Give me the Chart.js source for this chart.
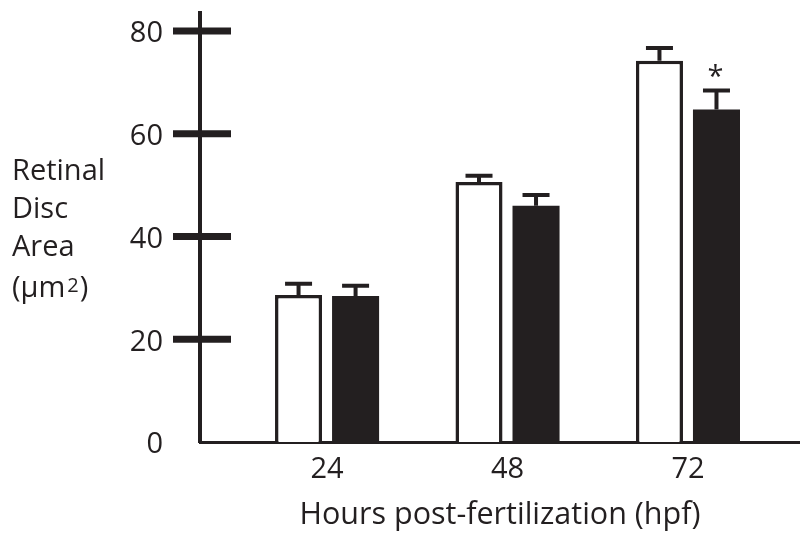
<!DOCTYPE html>
<html>
<head>
<meta charset="utf-8">
<script src="https://cdn.jsdelivr.net/npm/chart.js@4/dist/chart.umd.min.js"></script>
<style>
    html, body { margin: 0; padding: 0; background: #fff; }
    #wrap { width: 800px; height: 538px; }
</style>
</head>
<body>
<div id="wrap"><canvas id="discChart" width="800" height="538"></canvas></div>
<script>
// values
const hours = [24, 48, 72];
const controlArea = [28.6, 50.6, 74.2];
const controlErr = [2.2, 1.2, 2.5];
const treatedArea = [28.4, 46.0, 64.7];
const treatedErr = [2.0, 2.1, 3.7];
const treatedMarks = ['', '', '*'];
const yTicks = [0, 20, 40, 60, 80];

const INK = '#231f20';
const FONT = "'Open Sans', sans-serif";

// error bars (upper half only) + significance marks
const errorBars = {
    id: 'errorBars',
    afterDatasetsDraw(chart) {
        const ctx = chart.ctx;
        const y = chart.scales.y;
        const errs = [controlErr, treatedErr];
        const vals = [controlArea, treatedArea];
        ctx.save();
        ctx.strokeStyle = INK;
        ctx.fillStyle = INK;
        ctx.lineWidth = 4;
        chart.data.datasets.forEach((ds, di) => {
            chart.getDatasetMeta(di).data.forEach((bar, i) => {
                const top = y.getPixelForValue(vals[di][i] + errs[di][i]);
                ctx.beginPath();
                ctx.moveTo(bar.x, bar.y);
                ctx.lineTo(bar.x, top);
                ctx.moveTo(bar.x - 13.5, top);
                ctx.lineTo(bar.x + 13.5, top);
                ctx.stroke();
                if (di === 1 && treatedMarks[i]) {
                    ctx.font = '29px ' + FONT;
                    ctx.textAlign = 'center';
                    ctx.textBaseline = 'alphabetic';
                    ctx.fillText(treatedMarks[i], bar.x - 1, top - 5);
                }
            });
        });
        ctx.restore();
    }
};

// big tick marks crossing the y axis, and the horizontal y title
const axisDecor = {
    id: 'axisDecor',
    afterDraw(chart) {
        const ctx = chart.ctx;
        const y = chart.scales.y;
        const left = chart.chartArea.left;
        ctx.save();
        ctx.strokeStyle = INK;
        ctx.lineWidth = 7;
        yTicks.filter(v => v > 0).forEach(v => {
            const py = y.getPixelForValue(v);
            ctx.beginPath();
            ctx.moveTo(left - 27, py);
            ctx.lineTo(left + 31, py);
            ctx.stroke();
        });

        ctx.fillStyle = INK;
        ctx.textAlign = 'left';
        ctx.textBaseline = 'alphabetic';
        ctx.font = '29px ' + FONT;
        ctx.fillText('Retinal', 12, 180);
        ctx.fillText('Disc', 12, 218);
        ctx.fillText('Area', 12, 256);
        let x = 12;
        ctx.fillText('(\u03bcm', x, 297);
        x += ctx.measureText('(\u03bcm').width + 2;
        ctx.font = '20px ' + FONT;
        ctx.fillText('2', x, 292);
        x += ctx.measureText('2').width + 1;
        ctx.font = '29px ' + FONT;
        ctx.fillText(')', x, 297);
        ctx.restore();
    }
};

document.addEventListener('DOMContentLoaded', function() {
    const ctx = document.getElementById('discChart').getContext('2d');

    new Chart(ctx, {
        type: 'bar',
        data: {
            datasets: [{
                label: 'Control',
                data: hours.map((h, i) => ({ x: h, y: controlArea[i] })),
                backgroundColor: '#ffffff',
                borderColor: INK,
                borderWidth: 3.5,
                borderSkipped: 'start'
            },
            {
                label: 'Treated',
                data: hours.map((h, i) => ({ x: h, y: treatedArea[i] })),
                backgroundColor: INK,
                borderWidth: 0
            }]
        },
        options: {
            responsive: false,
            animation: false,
            categoryPercentage: 0.632,
            barPercentage: 0.825,
            layout: { padding: { top: 13, left: 0, right: 0, bottom: 0 } },
            plugins: {
                legend: { display: false },
                tooltip: { enabled: false }
            },
            scales: {
                x: {
                    type: 'linear',
                    offset: false,
                    min: 7.1,
                    max: 86.9,
                    afterBuildTicks: s => { s.ticks = hours.map(v => ({ value: v })); },
                    afterFit: s => {
                        s.height = 96;
                        s.paddingLeft = 0;
                        s.paddingRight = 0;
                    },
                    grid: { display: false, drawTicks: false, offset: false },
                    border: { display: true, color: INK, width: 3 },
                    ticks: {
                        color: INK,
                        padding: 10,
                        maxRotation: 0,
                        font: { family: FONT, size: 29 }
                    },
                    title: {
                        display: true,
                        text: 'Hours post-fertilization (hpf)',
                        color: INK,
                        padding: { top: 0, bottom: 4 },
                        font: { family: FONT, size: 30.5 }
                    }
                },
                y: {
                    min: 0,
                    max: 83.5,
                    afterBuildTicks: s => { s.ticks = yTicks.map(v => ({ value: v })); },
                    afterFit: s => {
                        s.width = 200;
                        s.paddingTop = 0;
                        s.paddingBottom = 0;
                    },
                    grid: { display: false, drawTicks: false },
                    border: { display: true, color: INK, width: 4 },
                    ticks: {
                        color: INK,
                        padding: 37,
                        labelOffset: 3,
                        font: { family: FONT, size: 29, lineHeight: 0.8 }
                    }
                }
            }
        },
        plugins: [errorBars, axisDecor]
    });
});
</script>
</body>
</html>
